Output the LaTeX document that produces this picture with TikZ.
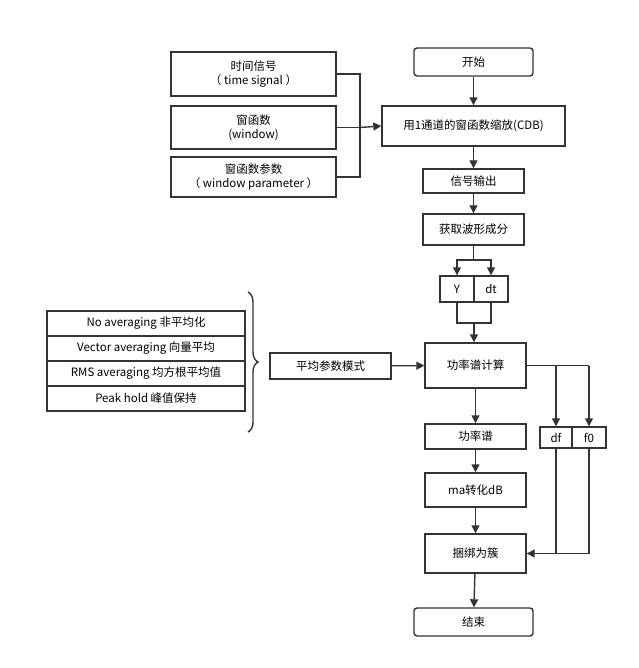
\documentclass[tikz,border=0pt]{standalone}
\usepackage{fontspec}
\setmainfont{Noto Sans CJK SC}
\usetikzlibrary{arrows.meta,decorations.pathreplacing}
\begin{document}
\begin{tikzpicture}[x=1pt,y=-1pt,
  line width=1.4pt, draw=black!80,
  box/.style={draw=black!80,line width=1.4pt,inner sep=0pt,font=\fontsize{11.5}{14}\selectfont,align=center},
  rbox/.style={box,rounded corners=3pt},
  arr/.style={-{Triangle[length=8pt,width=8pt]},draw=black!80,line width=1.4pt},
  ln/.style={draw=black!80,line width=1.4pt}]
\useasboundingbox (0,0) rectangle (638,668);
\fill[white] (0,0) rectangle (638,668);
\node[rbox,minimum width=119pt,minimum height=28pt] (start) at (473.5,62) {开始};
\node[box,minimum width=165pt,minimum height=44pt] (ts) at (253.5,74) {时间信号\\（ time signal ）};
\node[box,minimum width=165pt,minimum height=43pt] (win) at (253.5,127.5) {窗函数\\(window)};
\node[box,minimum width=165pt,minimum height=40pt] (wp) at (253.5,177) {窗函数参数\\（ window parameter ）};
\node[box,minimum width=183pt,minimum height=40pt] (cdb) at (473.5,126) {用1通道的窗函数缩放(CDB)};
\node[box,minimum width=101pt,minimum height=24pt] (out) at (473.5,181) {信号输出};
\node[box,minimum width=101pt,minimum height=31pt] (get) at (473.5,229.5) {获取波形成分};
\node[box,minimum width=34pt,minimum height=26pt] (Y) at (457,289) {Y};
\node[box,minimum width=34pt,minimum height=26pt] (dt) at (491,289) {dt};
\node[box,minimum width=101pt,minimum height=45pt] (psc) at (475.5,365.5) {功率谱计算};
\node[box,minimum width=121pt,minimum height=26pt] (avg) at (330.5,366) {平均参数模式};
\node[box,minimum width=198pt,minimum height=25pt] (l1) at (146,323.5) {No averaging 非平均化};
\node[box,minimum width=198pt,minimum height=25pt] (l2) at (146,348.5) {Vector averaging 向量平均};
\node[box,minimum width=198pt,minimum height=25pt] (l3) at (146,373.5) {RMS averaging 均方根平均值};
\node[box,minimum width=198pt,minimum height=25pt] (l4) at (146,398.5) {Peak hold 峰值保持};
\node[box,minimum width=101pt,minimum height=25pt] (ps) at (475.5,436.5) {功率谱};
\node[box,minimum width=32pt,minimum height=21pt] (df) at (556,437.5) {df};
\node[box,minimum width=34pt,minimum height=21pt] (f0) at (589,437.5) {f0};
\node[box,minimum width=101pt,minimum height=34pt] (db) at (475.5,490) {ma转化dB};
\node[box,minimum width=101pt,minimum height=39pt] (bun) at (475.5,553.5) {捆绑为簇};
\node[rbox,minimum width=119pt,minimum height=28pt] (end) at (473.5,622) {结束};
\coordinate (bus) at (360,127.5);
\draw[ln] (ts.east) -| (bus) |- (wp.east);
\draw[ln] (win.east) -- (bus);
\draw[arr] (bus) -- (cdb.west);
\draw[arr] (start) -- (cdb);
\draw[arr] (cdb) -- (out);
\draw[arr] (out) -- (get);
\coordinate (sp) at (473.5,260);
\draw[ln] (get.south) -- (sp);
\draw[arr] (sp) -| (Y.north);
\draw[arr] (sp) -| (dt.north);
\coordinate (jn) at (474,323);
\draw[ln] (Y.south) |- (jn) -| (dt.south);
\draw[arr] (jn) -- (psc.north -| jn);
\draw[arr] (avg) -- (psc);
\draw[ln,decorate,decoration={brace,amplitude=10pt,aspect=0.5}] (248,292) -- (248,432);
\coordinate (rs) at (589,365.5);
\draw[ln] (psc.east) -- (rs);
\draw[arr] (rs) -- (f0.north);
\draw[arr] (df.north |- rs) -- (df.north);
\draw[arr] (psc) -- (ps);
\draw[arr] (ps) -- (db);
\draw[arr] (db) -- (bun);
\coordinate (jr) at (589,553.5);
\draw[ln] (f0.south) -- (jr) -- (df.south |- jr);
\draw[ln] (df.south) -- (df.south |- jr);
\draw[arr] (df.south |- jr) -- (bun.east);
\draw[arr] (bun) -- (end);
\end{tikzpicture}
\end{document}
